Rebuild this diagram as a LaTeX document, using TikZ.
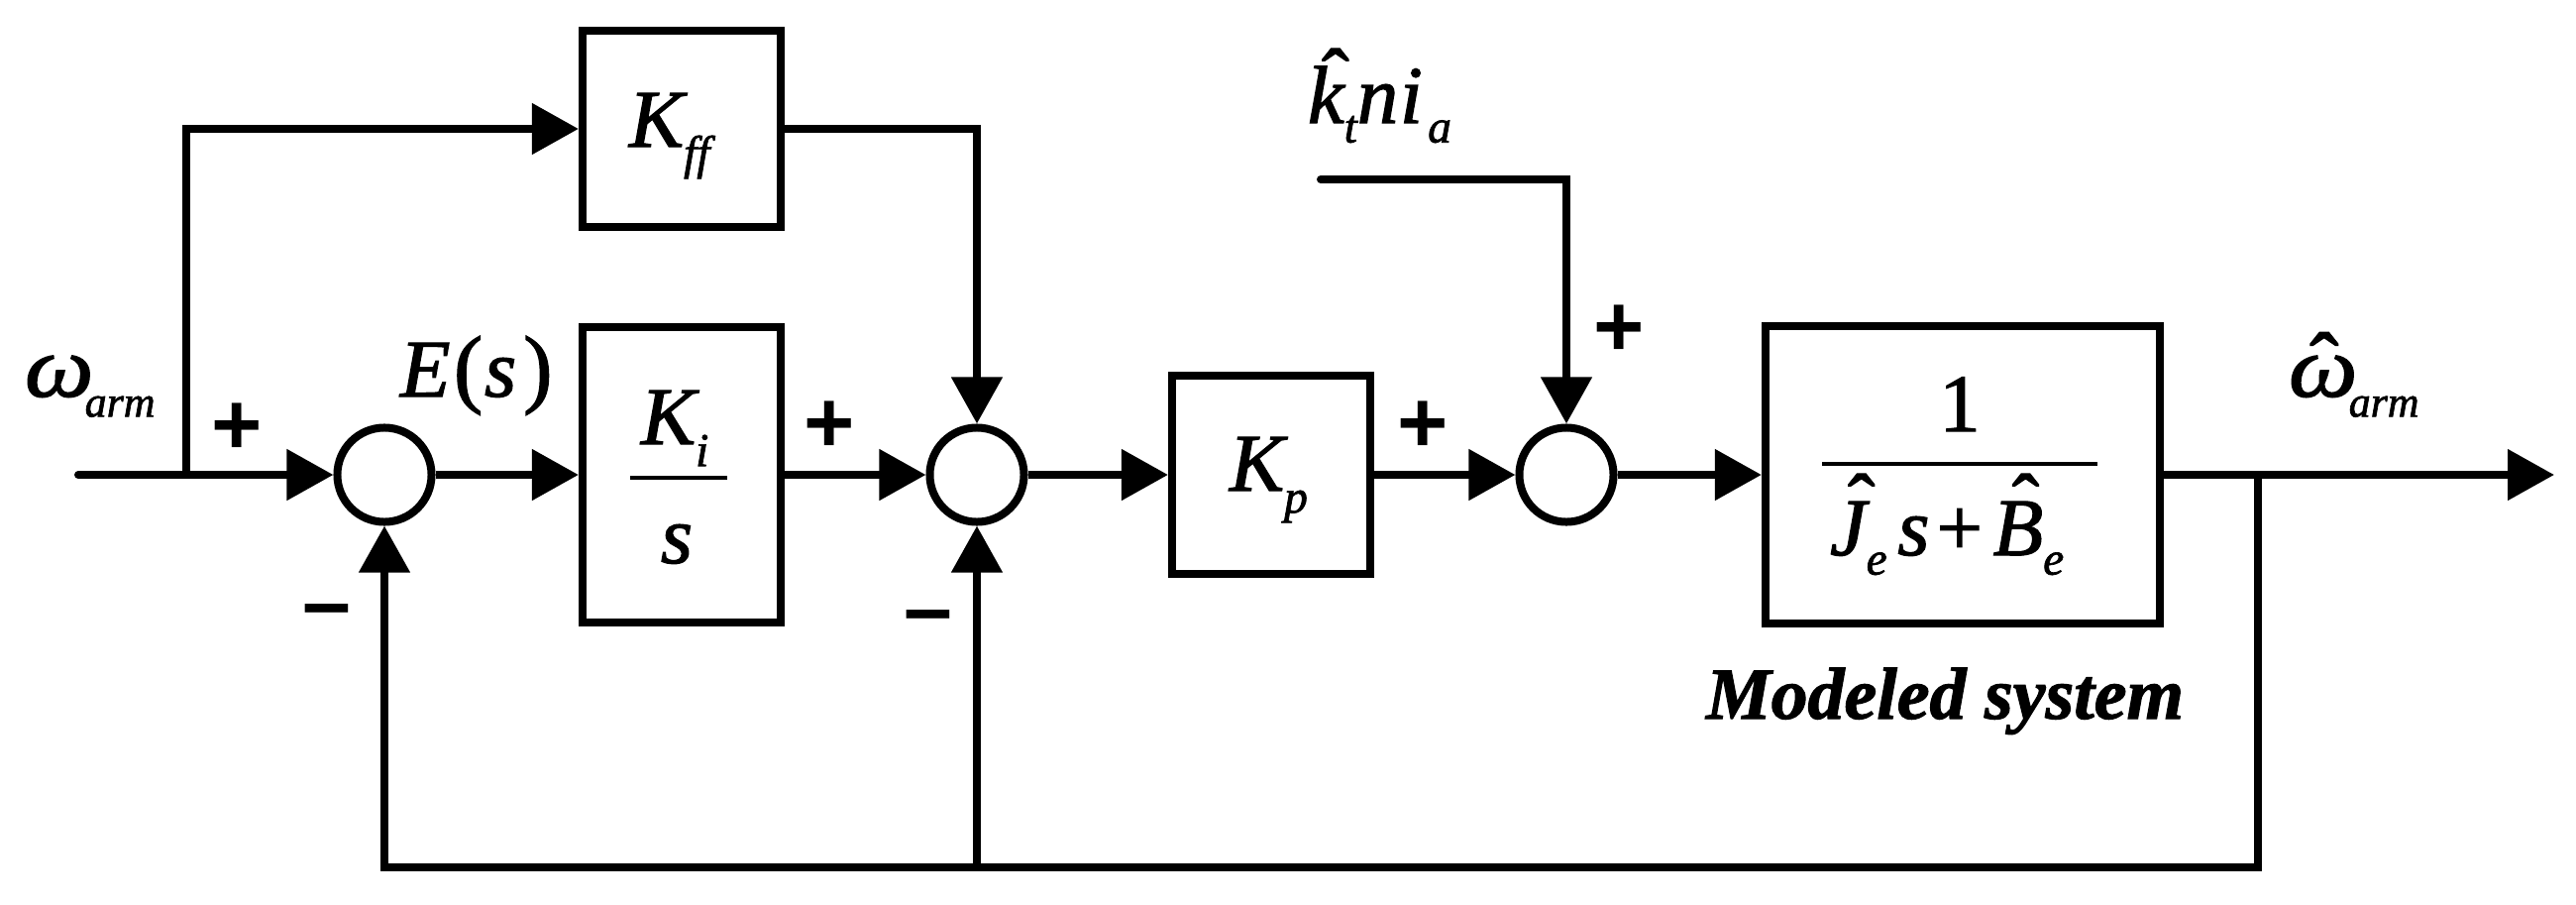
\documentclass[tikz,border=0pt]{standalone}
\usepackage{fontspec}
\setmainfont{Liberation Serif}[FakeBold=1.5]
\newfontfamily\signfont{Liberation Sans}
\usetikzlibrary{arrows.meta}
\newcommand\Mi{\fontsize{23.5}{28}\selectfont\itshape}
\newcommand\Su[2][6.3pt]{\raisebox{-#1}{\fontsize{13.5}{16}\selectfont\itshape #2}}
\newcommand\Sw[2][5.8pt]{\raisebox{-#1}{\fontsize{12.5}{15}\selectfont\itshape #2}}
\newcommand\Hat[3]{\makebox[0pt][l]{\kern#1\raisebox{#2}{\upshape\char"02C6}}#3}
\newcommand\Om{\scalebox{1.12}[1]{ω}}
\tikzset{
  ln/.style={line width=0.08cm},
  wire/.style={ln, -{Triangle[length=0.47cm,width=0.5cm]}},
  blk/.style={draw, ln, inner sep=0pt, fill=white},
  sumc/.style={draw, ln, circle, minimum size=0.95cm, inner sep=0pt},
  lbl/.style={anchor=base west, inner sep=0pt, outer sep=0pt},
  clbl/.style={anchor=base, inner sep=0pt, outer sep=0pt},
  sgn/.style={inner sep=0pt, font=\signfont\bfseries\fontsize{25}{28}\selectfont},
  fracbar/.style={line width=0.045cm},
}
\begin{document}
\begin{tikzpicture}[x=0.01cm,y=-0.01cm]
\useasboundingbox (0,0) rectangle (2600,912);
% blocks
\node[blk, minimum width=2cm, minimum height=1.98cm] (kff) at (688,130) {};
\node[blk, minimum width=2cm, minimum height=2.98cm] (ki) at (688,479) {};
\node[blk, minimum width=2cm, minimum height=2cm] (kp) at (1283,479) {};
\node[blk, minimum width=3.98cm, minimum height=2.99cm] (plant) at (1981,479) {};
\node[sumc] (s1) at (388,479) {};
\node[sumc] (s2) at (986,479) {};
\node[sumc] (s3) at (1581,479) {};
% free ends and corners
\coordinate (in0) at (79,479);
\coordinate (b0) at (188,479);
\coordinate (kt0) at (1333,181);
\coordinate (ob) at (2279,479);
\coordinate (out) at (2578,479);
\coordinate (fbr) at (2279,875);
\coordinate (fbm) at (986,875);
% connectors
\draw[ln, line cap=round] (in0) -- (b0);
\draw[wire] (b0) -- (s1.west);
\draw[wire] (b0) |- (kff.west);
\draw[wire] (s1.east) -- (ki.west);
\draw[wire] (ki.east) -- (s2.west);
\draw[wire] (kff.east) -| (s2.north);
\draw[wire] (s2.east) -- (kp.west);
\draw[wire] (kp.east) -- (s3.west);
\draw[wire, line cap=round] (kt0) -| (s3.north);
\draw[wire] (s3.east) -- (plant.west);
\draw[wire] (plant.east) -- (out);
\draw[wire] (ob) -- (fbr) -| (s1.south);
\draw[wire] (fbm) -- (s2.south);
% fraction bars
\draw[fracbar] (636,482) -- (734,482);
\draw[fracbar] (1839,468) -- (2117,468);
% labels
\node[lbl, font=\fontsize{25}{28}\selectfont\itshape] (twin) at (25,400) {\Om\kern-2.5pt\Sw{arm}};
\node[lbl, font=\Mi] (tes) at (404,400) {E\kern1pt{\fontsize{25}{28}\selectfont\upshape(}\kern0.5pt s\kern2pt{\fontsize{25}{28}\selectfont\upshape)}};
\node[lbl, font=\Mi] (tkff) at (635,148) {K\Su{ff}};
\node[lbl, font=\Mi] (tki) at (647,448) {K\Su{i}};
\node[clbl, font=\Mi] (tks) at (683,568) {s};
\node[lbl, font=\Mi] (tkp) at (1241,495) {K\Su{p}};
\node[lbl, font=\Mi] (tkt) at (1320,124) {\Hat{4pt}{5pt}{k}\Su[5.6pt]{t}n\kern0.5pt i\kern1.5pt\Su[5.6pt]{a}};
\node[clbl, font=\Mi] (tone) at (1978,435) {\upshape 1};
\node[lbl, font=\Mi] (tden) at (1847,560) {\Hat{5.1pt}{7pt}{J}\Su[5.6pt]{e}\kern3pt s\kern2pt{\upshape+}\kern3pt\Hat{5.4pt}{7pt}{B}\Su[5.6pt]{e}};
\node[lbl, font=\fontsize{21}{25}\selectfont\bfseries\itshape] (tmod) at (1722,725) {Modeled system};
\node[lbl, font=\fontsize{25}{28}\selectfont\itshape] (twout) at (2310,400) {\Hat{6pt}{1pt}{\Om}\kern-2.5pt\Sw{arm}};
% signs
\node[sgn] (p1) at (239,433) {+};
\node[sgn] (m1) at (330,624) {–};
\node[sgn] (p2) at (837,431) {+};
\node[sgn] (m2) at (937,630) {–};
\node[sgn] (p3) at (1436,431) {+};
\node[sgn] (p4) at (1634,334) {+};
\end{tikzpicture}
\end{document}
